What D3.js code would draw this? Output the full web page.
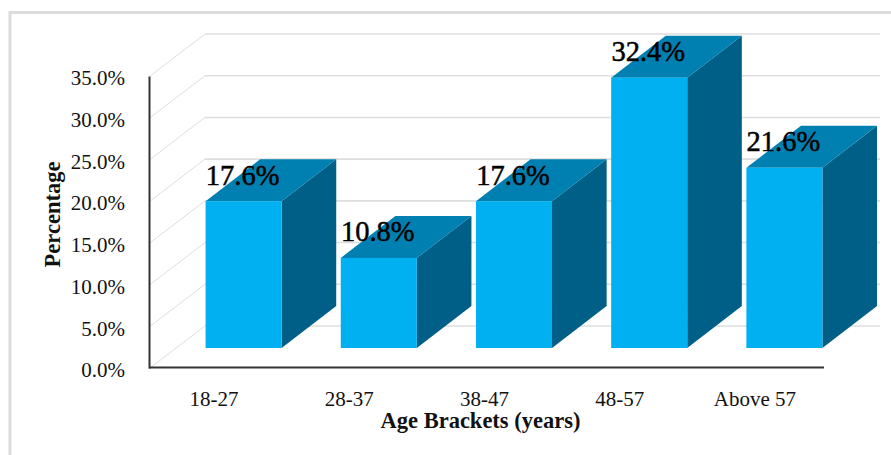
<!DOCTYPE html>
<html>
<head>
<meta charset="utf-8">
<script src="https://cdn.jsdelivr.net/npm/d3@7"></script>
<style>
html,body{margin:0;padding:0;background:#fff}
svg{display:block}
text{font-family:"Liberation Serif","Times New Roman",serif;fill:#111}
</style>
</head>
<body>
<svg id="chart" width="891" height="455"></svg>
<script>
// Age distribution of respondents, drawn as a 3-D column chart
const categories = ["18-27", "28-37", "38-47", "48-57", "Above 57"];
const percentages = [17.6, 10.8, 17.6, 32.4, 21.6];
const yTicks = [0, 5, 10, 15, 20, 25, 30, 35];

const chartWidth = 891, chartHeight = 455;
const svg = d3.select("#chart");

// Oblique projection: how far the back wall sits from the front plane
const depthX = 55, depthY = -42;
// Columns stand a little forward of the floor's front edge
const barLift = 20, barShift = 26, barDepthX = 54.6;
const axisEnd = 824;

const y = d3.scaleLinear().domain([0, 35]).range([368, 76]);
const x = d3.scaleBand().domain(categories).range([150, 826])
  .paddingInner(0.4375).paddingOuter(0.21875);

// Outer chart frame
const frame = svg.append("g").attr("fill", "none").attr("stroke", "#dcdcdc").attr("stroke-width", 3);
frame.append("path").attr("d", d3.line()([[10, chartHeight], [10, 12.5], [chartWidth, 12.5]]));

// Gridlines: a diagonal on the side wall and a horizontal on the back wall
const grid = svg.append("g").attr("fill", "none").attr("stroke", "#dedede");
grid.selectAll("path.wall").data(yTicks).join("path").attr("class", "wall")
  .attr("stroke-width", 1)
  .attr("d", d => d3.line()([[150, y(d)], [150 + depthX, y(d) + depthY]]));
grid.selectAll("path.back").data(yTicks).join("path").attr("class", "back")
  .attr("stroke-width", 1.6)
  .attr("d", d => d3.line()([[150 + depthX, y(d) + depthY], [880, y(d) + depthY]]));

// Columns
const bars = svg.append("g").selectAll("g").data(categories).join("g");
const bx0 = c => x(c) + barShift;
const bx1 = c => bx0(c) + x.bandwidth();
const barTop = (c, i) => y(percentages[i]) - barLift;
const barBottom = y(0) - barLift;

bars.append("path").attr("fill", "#005F86")
  .attr("d", (c, i) => d3.line()([
    [bx1(c), barTop(c, i)], [bx1(c) + barDepthX, barTop(c, i) + depthY],
    [bx1(c) + barDepthX, barBottom + depthY], [bx1(c), barBottom]]) + "Z");
bars.append("path").attr("fill", "#0080B1")
  .attr("d", (c, i) => d3.line()([
    [bx0(c), barTop(c, i)], [bx0(c) + barDepthX, barTop(c, i) + depthY],
    [bx1(c) + barDepthX, barTop(c, i) + depthY], [bx1(c), barTop(c, i)]]) + "Z");
bars.append("rect").attr("fill", "#00B0F0")
  .attr("x", bx0).attr("y", barTop)
  .attr("width", x.bandwidth())
  .attr("height", (c, i) => barBottom - barTop(c, i));

// Axes
const yAxis = svg.append("g").attr("transform", "translate(149,0)")
  .call(d3.axisLeft(y).tickValues(yTicks).tickSize(0).tickPadding(24)
    .tickFormat(d => d.toFixed(1) + "%"));
const xAxis = svg.append("g").attr("transform", `translate(0,${y(0) - 1})`)
  .call(d3.axisBottom(x).tickSize(0).tickPadding(24));
[yAxis, xAxis].forEach(a => {
  a.select(".domain").attr("stroke", "#333").attr("stroke-width", 2);
  a.selectAll("text").attr("font-family", null).style("font-size", "21px");
});
xAxis.select(".domain").attr("d", `M149,0.5H${axisEnd}`);
xAxis.selectAll("text").attr("dx", -3.5);
yAxis.selectAll("text").attr("dy", "0.42em");

// Value labels above each column
svg.append("g").selectAll("text").data(categories).join("text")
  .attr("x", c => bx0(c) + x.bandwidth() / 2 - 1)
  .attr("y", (c, i) => barTop(c, i) - 16.5)
  .attr("text-anchor", "middle")
  .style("font-size", "28.5px")
  .style("fill", "#000")
  .style("stroke", "#000")
  .style("stroke-width", 0.5)
  .text((c, i) => percentages[i].toFixed(1) + "%");

// Axis titles
svg.append("text").attr("x", 480.5).attr("y", 428).attr("text-anchor", "middle")
  .style("font-size", "22.5px").style("font-weight", "bold").text("Age Brackets (years)");
svg.append("text").attr("transform", "translate(60,214.5) rotate(-90)").attr("text-anchor", "middle")
  .style("font-size", "22.5px").style("font-weight", "bold").text("Percentage");
</script>
</body>
</html>
